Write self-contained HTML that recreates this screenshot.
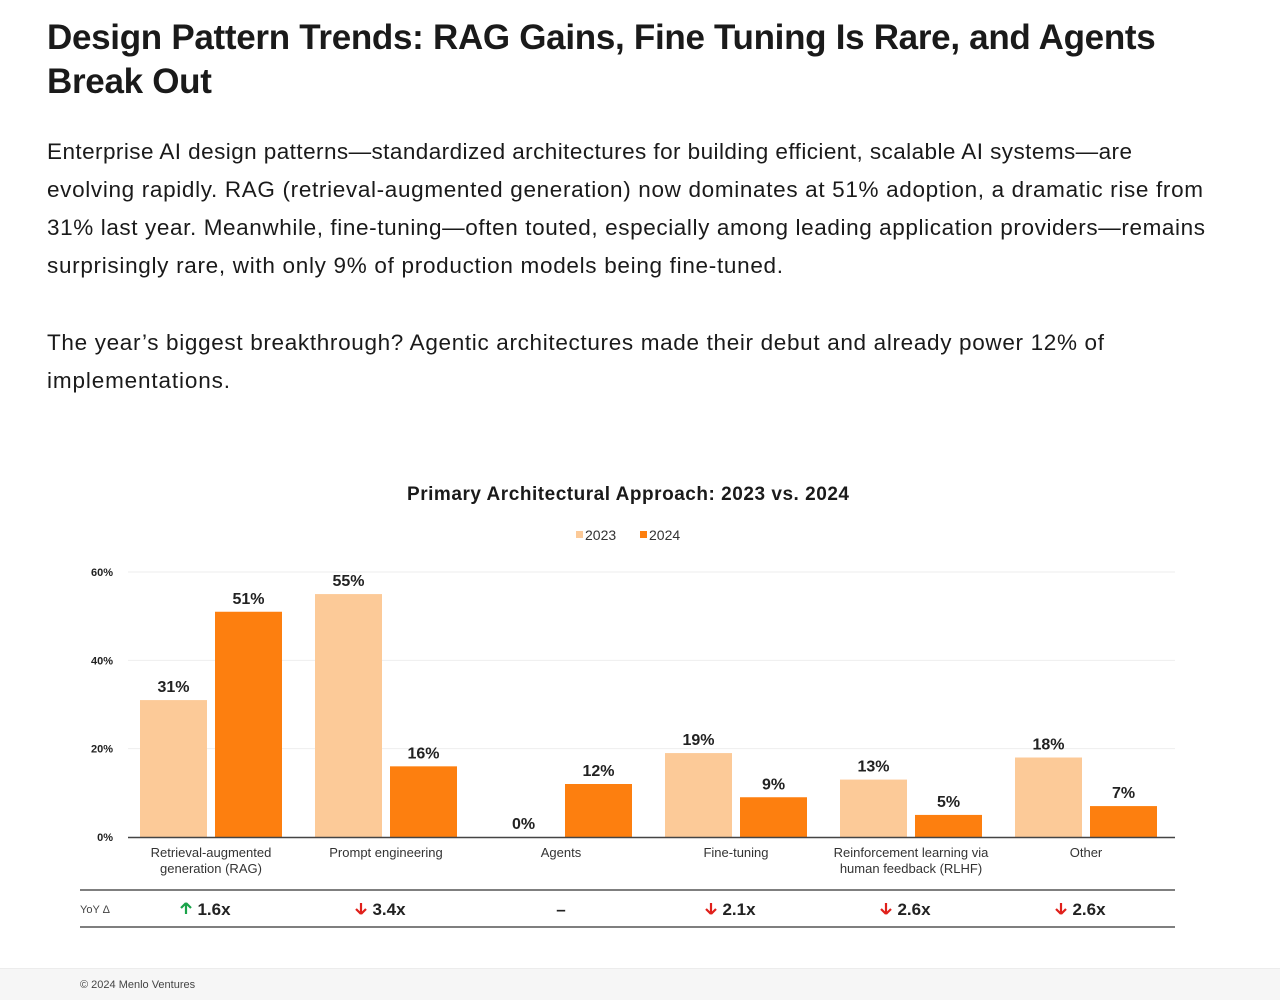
<!DOCTYPE html>
<html><head><meta charset="utf-8"><style>
body{margin:0;width:1280px;height:999px;background:#fff;font-family:"Liberation Sans",sans-serif;color:#1a1a1a;position:relative;overflow:hidden}
h1{position:absolute;left:47px;top:16px;margin:0;font-size:35px;line-height:44px;font-weight:bold;letter-spacing:-0.3px;width:1200px}
.foot{position:absolute;left:0;top:968px;width:1280px;height:31px;background:#f6f6f6;border-top:1px solid #ececec}
.foot span{position:absolute;left:80px;top:10px;font-size:11px;color:#444}
</style></head><body>
<h1>Design Pattern Trends: RAG Gains, Fine Tuning Is Rare, and Agents Break Out</h1>
<svg width="1280" height="420" style="position:absolute;left:0;top:0" font-family="Liberation Sans, sans-serif" font-size="22.5" fill="#1a1a1a">
<g>
<text x="47" y="159" textLength="1085" lengthAdjust="spacing">Enterprise AI design patterns—standardized architectures for building efficient, scalable AI systems—are</text>
<text x="47" y="197" textLength="1156" lengthAdjust="spacing">evolving rapidly. RAG (retrieval-augmented generation) now dominates at 51% adoption, a dramatic rise from</text>
<text x="47" y="235" textLength="1158" lengthAdjust="spacing">31% last year. Meanwhile, fine-tuning—often touted, especially among leading application providers—remains</text>
<text x="47" y="273" textLength="736" lengthAdjust="spacing">surprisingly rare, with only 9% of production models being fine-tuned.</text>
</g>
<g>
<text x="47" y="350" textLength="1057" lengthAdjust="spacing">The year’s biggest breakthrough? Agentic architectures made their debut and already power 12% of</text>
<text x="47" y="388" textLength="183" lengthAdjust="spacing">implementations.</text>
</g>
</svg>
<svg id="chart" width="1280" height="999" style="position:absolute;left:0;top:0;pointer-events:none"></svg>
<div class="foot"><span>© 2024 Menlo Ventures</span></div>
<script>
const categories=[["Retrieval-augmented","generation (RAG)"],["Prompt engineering"],["Agents"],["Fine-tuning"],["Reinforcement learning via","human feedback (RLHF)"],["Other"]];
const values2023=[31,55,0,19,13,18];
const values2024=[51,16,12,9,5,7];
const yoyLabels=["1.6x","3.4x","–","2.1x","2.6x","2.6x"];
const yoyDir=["up","down","none","down","down","down"];
const yTicks=[0,20,40,60];
const NS="http://www.w3.org/2000/svg";
const svg=document.getElementById('chart');
const y=v=>837-v*265/60;
const xc=i=>211+i*175;
function el(t,a,txt){const e=document.createElementNS(NS,t);for(const k in a)e.setAttribute(k,a[k]);if(txt!==undefined)e.textContent=txt;svg.appendChild(e);return e;}
let e;
e=el('text',{x:407,y:500,'font-size':19,'font-weight':'bold',fill:'#1a1a1a',textLength:442,lengthAdjust:'spacing'},'Primary Architectural Approach: 2023 vs. 2024');


e=el('rect',{x:576,y:531,width:7,height:7,fill:'#fcca98'});


e=el('text',{x:585,y:540,'font-size':14,fill:'#333'},'2023');


e=el('rect',{x:640,y:531,width:7,height:7,fill:'#fd7f0f'});


e=el('text',{x:649,y:540,'font-size':14,fill:'#333'},'2024');


yTicks.forEach(t=>{
 if(t>0){e=el('line',{x1:128,x2:1175,y1:y(t),y2:y(t),stroke:'#eeeeee','stroke-width':1});
 
 }
 e=el('text',{x:113,y:y(t)+4,'text-anchor':'end','font-size':11,'font-weight':'bold',fill:'#222'},t+'%');
 
 
});
categories.forEach((c,i)=>{
 const cx=xc(i);
 [[values2023[i],'#fcca98',cx-71,'bar-2023'],[values2024[i],'#fd7f0f',cx+4,'bar-2024']].forEach(([v,col,x0,nm])=>{
  e=el('rect',{x:x0,y:y(v),width:67,height:837-y(v),fill:col});
  
  
  e=el('text',{x:x0+33.5,y:y(v)-8,'text-anchor':'middle','font-size':16,'font-weight':'bold',fill:'#222'},v+'%');
  
  
 });
 c.forEach((ln,j)=>{
  e=el('text',{x:cx,y:857+j*16,'text-anchor':'middle','font-size':13,fill:'#333'},ln);
  
  
 });
 const d=yoyDir[i];
 let tx=cx;
 if(d!=='none'){
  const ax=cx-25, col=d==='up'?'#1aa34a':'#e0201b';
  if(d==='up'){e=el('path',{d:`M${ax} 903 L${ax-5} 908 M${ax} 903 L${ax+5} 908 M${ax} 903 L${ax} 914`,stroke:col,'stroke-width':2.2,fill:'none'});}
  else{e=el('path',{d:`M${ax} 914 L${ax-5} 909 M${ax} 914 L${ax+5} 909 M${ax} 914 L${ax} 903`,stroke:col,'stroke-width':2.2,fill:'none'});}
  
  
  tx=cx+3;
 }
 e=el('text',{x:tx,y:915,'text-anchor':'middle','font-size':17,'font-weight':'bold',fill:'#222'},yoyLabels[i]);
 
 
});
e=el('line',{x1:128,x2:1175,y1:837.5,y2:837.5,stroke:'#444','stroke-width':1.5});


e=el('line',{x1:80,x2:1175,y1:890,y2:890,stroke:'#555','stroke-width':1.5});


e=el('line',{x1:80,x2:1175,y1:927,y2:927,stroke:'#555','stroke-width':1.5});


e=el('text',{x:80,y:913,'font-size':11,fill:'#444'},'YoY Δ');


</script>
</body></html>
